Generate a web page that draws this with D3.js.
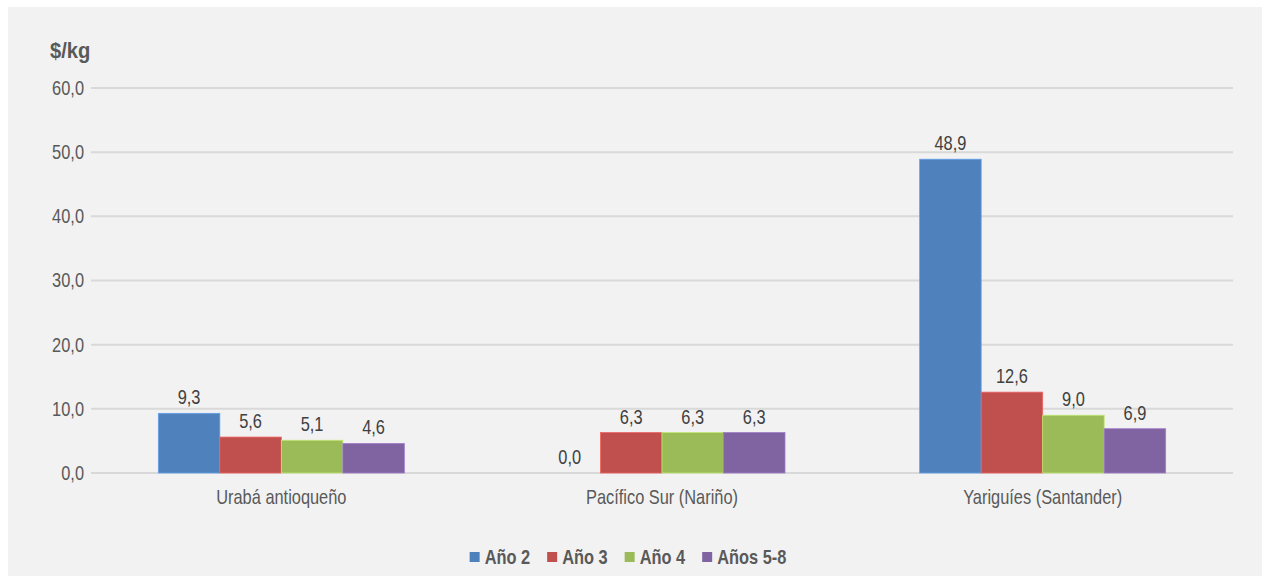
<!DOCTYPE html>
<html>
<head>
<meta charset="utf-8">
<script src="https://cdn.jsdelivr.net/npm/d3@7"></script>
<style>
  html, body { margin: 0; padding: 0; background: #ffffff; }
  svg { display: block; }
  text { font-family: "Liberation Sans", Arial, sans-serif; }
</style>
</head>
<body>
<svg id="chart" width="1264" height="577"></svg>
<script>
// Regions and annual cost series ($/kg)
const regions = ["Urabá antioqueño", "Pacífico Sur (Nariño)", "Yariguíes (Santander)"];
const seriesNames = ["Año 2", "Año 3", "Año 4", "Años 5-8"];
const anio2 = [9.3, 0.0, 48.9];
const anio3 = [5.6, 6.3, 12.6];
const anio4 = [5.1, 6.3, 9.0];
const anios58 = [4.6, 6.3, 6.9];
const yTicks = [0, 10, 20, 30, 40, 50, 60];
const unitLabel = "$/kg";

const seriesValues = [anio2, anio3, anio4, anios58];
const colors = ["#4f81bd", "#c0504d", "#9bbb59", "#8064a2"];

// horizontal compression to give a narrow face look
const NARROW = 0.82;
function narrow(sel, k = NARROW) {
  sel.each(function () {
    const t = d3.select(this);
    const x = +t.attr("x") || 0;
    t.attr("x", x / k).attr("transform", `scale(${k},1)`);
  });
}

const svg = d3.select("#chart");
const W = 1264, H = 577;

// panel background
svg.append("rect")
  .attr("x", 8).attr("y", 7)
  .attr("width", W - 10).attr("height", H - 8)
  .attr("fill", "#f2f2f2");

const plot = { left: 91, right: 1233, top: 88, bottom: 473 };

const y = d3.scaleLinear().domain([0, 60]).range([plot.bottom, plot.top]);
const x0 = d3.scaleBand().domain(regions).range([plot.left, plot.right]).padding(0);
const x1 = d3.scaleBand().domain(seriesNames).range([0, x0.bandwidth()])
  .paddingInner(0).paddingOuter(1.095);

const fmt = v => d3.format(".1f")(v).replace(".", ",");

// gridlines
svg.append("g")
  .selectAll("line")
  .data(yTicks)
  .join("line")
  .attr("x1", plot.left).attr("x2", plot.right)
  .attr("y1", d => y(d)).attr("y2", d => y(d))
  .attr("stroke", "#d9d9d9")
  .attr("stroke-width", 2);

// y axis tick labels
const yAxis = d3.axisLeft(y).tickValues(yTicks).tickFormat(fmt).tickSize(0).tickPadding(7);
const gy = svg.append("g").attr("transform", `translate(${plot.left},0)`).call(yAxis);
gy.select(".domain").remove();
gy.selectAll("text")
  .attr("fill", "#595959")
  .style("font-size", "20px")
  .style("font-family", "\"Liberation Sans\", Arial, sans-serif")
  .call(narrow);

// unit title
svg.append("g").attr("transform", "translate(50,58)")
  .append("text")
  .attr("x", 0).attr("y", 0)
  .attr("fill", "#595959")
  .style("font-size", "22px")
  .style("font-weight", "bold")
  .text(unitLabel)
  .call(narrow, 0.92);

// bars
const rows = regions.map((r, i) => ({
  region: r,
  items: seriesNames.map((s, j) => ({ series: s, value: seriesValues[j][i], color: colors[j] }))
}));

const groups = svg.append("g")
  .selectAll("g")
  .data(rows)
  .join("g")
  .attr("transform", d => `translate(${x0(d.region)},0)`);

groups.selectAll("rect")
  .data(d => d.items)
  .join("rect")
  .attr("x", d => x1(d.series))
  .attr("y", d => y(d.value))
  .attr("width", x1.bandwidth())
  .attr("height", d => y(0) - y(d.value))
  .attr("fill", d => d.color)
  .attr("stroke", d => d3.color(d.color).brighter(0.6))
  .attr("stroke-width", d => d.value > 0 ? 0.8 : 0);

// value labels
groups.selectAll("g.val")
  .data(d => d.items)
  .join("g")
  .attr("class", "val")
  .attr("transform", d => `translate(${x1(d.series) + x1.bandwidth() / 2},${y(d.value) - 9})`)
  .append("text")
  .attr("text-anchor", "middle")
  .attr("fill", "#404040")
  .style("font-size", "20px")
  .text(d => fmt(d.value))
  .call(narrow);

// category axis labels
const xAxis = d3.axisBottom(x0).tickSize(0).tickPadding(17);
const gx = svg.append("g").attr("transform", `translate(0,${plot.bottom})`).call(xAxis);
gx.select(".domain").remove();
gx.selectAll("text")
  .attr("fill", "#595959")
  .style("font-size", "20px")
  .style("font-family", "\"Liberation Sans\", Arial, sans-serif")
  .call(narrow);

// legend
const legend = svg.append("g").attr("transform", "translate(0,557)");
const items = legend.selectAll("g")
  .data(seriesNames)
  .join("g");
items.append("rect")
  .attr("width", 10).attr("height", 10)
  .attr("y", -5)
  .attr("fill", (d, i) => colors[i]);
items.append("text")
  .attr("x", 15)
  .attr("y", 7)
  .attr("fill", "#595959")
  .style("font-size", "20px")
  .style("font-weight", "bold")
  .text(d => d)
  .call(narrow);

const gap = 17;
const widths = [];
items.each(function () {
  widths.push(15 + this.querySelector("text").getComputedTextLength() * NARROW);
});
const total = d3.sum(widths) + gap * (widths.length - 1);
let cx = 628 - total / 2;
items.attr("transform", (d, i) => {
  const t = `translate(${cx},0)`;
  cx += widths[i] + gap;
  return t;
});
</script>
</body>
</html>
